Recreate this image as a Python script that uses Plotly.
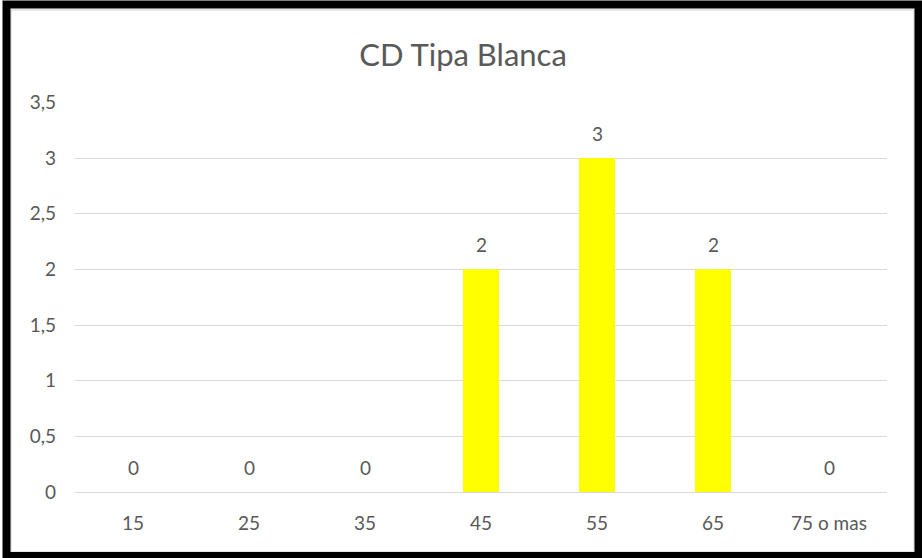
import plotly.graph_objects as go

categories = ["15", "25", "35", "45", "55", "65", "75 o mas"]
counts = [0, 0, 0, 2, 3, 2, 0]
title_text = "CD Tipa Blanca"

W, H = 922, 558
ML, MR, MT, MB = 75, 35, 102, 66
PW, PH = W - ML - MR, H - MT - MB


def px(x):
    return (x - ML) / PW


def py(y):
    return (H - MB - y) / PH


text_color = "#595959"
grid_color = "#d9d9d9"
font_family = "Lato, Open Sans, sans-serif"
label_size = 19

fig = go.Figure(
    go.Bar(
        x=categories,
        y=counts,
        marker=dict(color="#ffff00", line=dict(width=0)),
        width=0.31,
        hoverinfo="x+y",
    )
)

# value labels sit a fixed distance above each bar top
# (category axis: numeric x is the category index)
for idx, val in enumerate(counts):
    fig.add_annotation(
        x=idx, y=val, text=str(val), showarrow=False,
        yanchor="middle", yshift=25,
        font=dict(size=label_size, color=text_color, family=font_family),
    )

fig.update_layout(
    width=W,
    height=H,
    margin=dict(l=ML, r=MR, t=MT, b=MB, autoexpand=False),
    paper_bgcolor="white",
    plot_bgcolor="white",
    separators=", ",
    showlegend=False,
    title=dict(
        text=title_text,
        x=463 / W,
        xref="container",
        xanchor="center",
        y=1 - 55 / H,
        yref="container",
        yanchor="middle",
        font=dict(size=31, color=text_color, family=font_family),
    ),
    font=dict(family=font_family, color=text_color, size=label_size),
    xaxis=dict(
        type="category",
        categoryorder="array",
        categoryarray=categories,
        range=[-0.5, len(categories) - 0.5],
        automargin=False,
        tickangle=0,
        showgrid=False,
        showline=True,
        linecolor=grid_color,
        linewidth=1,
        ticks="",
        ticklabelstandoff=14,
        tickfont=dict(size=label_size, color=text_color),
    ),
    yaxis=dict(
        automargin=False,
        range=[0, 3.503],
        tickvals=[0, 0.5, 1, 1.5, 2, 2.5, 3, 3.5],
        showgrid=True,
        gridcolor=grid_color,
        gridwidth=1,
        zeroline=False,
        showline=False,
        ticks="",
        ticklabelstandoff=18,
        tickfont=dict(size=label_size, color=text_color),
    ),
    shapes=[
        # thin chart-area border
        dict(type="rect", xref="paper", yref="paper",
             x0=px(11), x1=px(914), y0=py(552), y1=py(10),
             line=dict(color="#d0d0d0", width=1), layer="below"),
        # heavy outer frame
        dict(type="rect", xref="paper", yref="paper",
             x0=px(6.5), x1=px(918.5), y0=py(556), y1=py(4.5),
             line=dict(color="black", width=8), layer="above"),
    ],
)

fig.write_html("out.html")
